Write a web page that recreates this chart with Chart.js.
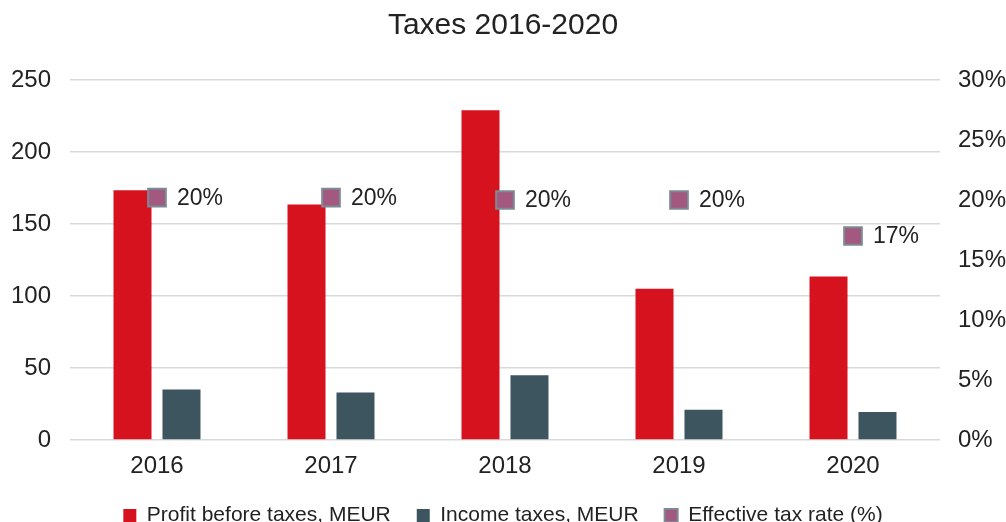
<!DOCTYPE html>
<html>
<head>
<meta charset="utf-8">
<script src="https://cdn.jsdelivr.net/npm/chart.js@4"></script>
<style>
  html, body { margin: 0; padding: 0; background: #fff; overflow: hidden; }
  #wrap { position: relative; width: 1006px; height: 536px; }
</style>
</head>
<body>
<div id="wrap"><canvas id="c"></canvas></div>
<script>
const categories = ['2016', '2017', '2018', '2019', '2020'];
const profitBeforeTaxes = [173.5, 163.5, 229, 105, 113.5];
const incomeTaxes = [35, 33, 45, 21, 19.5];
const effectiveTaxRate = [20.2, 20.2, 20.0, 20.0, 17.0];
const rateLabels = ['20%', '20%', '20%', '20%', '17%'];
const leftTicks = [0, 50, 100, 150, 200, 250];
const rightTicks = [0, 5, 10, 15, 20, 25, 30];

const FONT = "'Liberation Sans', Arial, sans-serif";
const TEXT = '#222222';

const rateLabelPlugin = {
  id: 'rateLabels',
  afterDatasetsDraw(chart) {
    const meta = chart.getDatasetMeta(2);
    const ctx = chart.ctx;
    ctx.save();
    ctx.font = '23px ' + FONT;
    ctx.fillStyle = TEXT;
    ctx.textAlign = 'left';
    ctx.textBaseline = 'middle';
    meta.data.forEach((pt, i) => {
      ctx.fillText(rateLabels[i], pt.x + 20, pt.y + 1);
    });
    ctx.restore();
  }
};

new Chart(document.getElementById('c'), {
  type: 'bar',
  data: {
    labels: categories,
    datasets: [
      {
        label: 'Profit before taxes, MEUR',
        data: profitBeforeTaxes,
        backgroundColor: '#d6121f',
        yAxisID: 'y',
        order: 1,
        categoryPercentage: 0.563,
        barPercentage: 0.776
      },
      {
        label: 'Income taxes, MEUR',
        data: incomeTaxes,
        backgroundColor: '#3d555f',
        yAxisID: 'y',
        order: 1,
        categoryPercentage: 0.563,
        barPercentage: 0.776
      },
      {
        type: 'line',
        label: 'Effective tax rate (%)',
        data: effectiveTaxRate,
        yAxisID: 'y2',
        showLine: false,
        order: 0,
        backgroundColor: '#a2587f',
        borderColor: '#7d8a94',
        borderWidth: 2,
        pointStyle: 'rect',
        pointRadius: 12.5,
        pointHoverRadius: 12.5,
        pointBorderWidth: 2
      }
    ]
  },
  options: {
    responsive: true,
    maintainAspectRatio: false,
    animation: false,
    layout: { padding: 0 },
    plugins: {
      tooltip: { enabled: false },
      title: {
        display: true,
        text: 'Taxes 2016-2020',
        color: TEXT,
        font: { family: FONT, size: 30, weight: 'normal' },
        padding: { top: 8, bottom: 36 }
      },
      legend: {
        position: 'bottom',
        labels: {
          color: TEXT,
          font: { family: FONT, size: 21 },
          boxWidth: 13,
          boxHeight: 13,
          padding: 26,
          sort: (a, b) => a.datasetIndex - b.datasetIndex
        }
      }
    },
    scales: {
      x: {
        grid: { display: false, drawTicks: false },
        border: { display: false },
        ticks: { color: TEXT, font: { family: FONT, size: 24 }, padding: 12 },
        afterFit(s) { s.height = 39; }
      },
      y: {
        position: 'left',
        min: 0,
        max: 250,
        afterBuildTicks(s) { s.ticks = leftTicks.map(v => ({ value: v })); },
        grid: { color: '#d9d9d9', lineWidth: 1.5, drawTicks: false },
        border: { display: false },
        ticks: { color: TEXT, font: { family: FONT, size: 24 }, padding: 19 },
        afterFit(s) { s.width = 70; }
      },
      y2: {
        position: 'right',
        min: 0,
        max: 30,
        afterBuildTicks(s) { s.ticks = rightTicks.map(v => ({ value: v })); },
        grid: { display: false, drawTicks: false },
        border: { display: false },
        ticks: {
          color: TEXT,
          font: { family: FONT, size: 24 },
          padding: 18,
          callback: v => v + '%'
        },
        afterFit(s) { s.width = 66; }
      }
    }
  },
  plugins: [rateLabelPlugin]
});
</script>
</body>
</html>
